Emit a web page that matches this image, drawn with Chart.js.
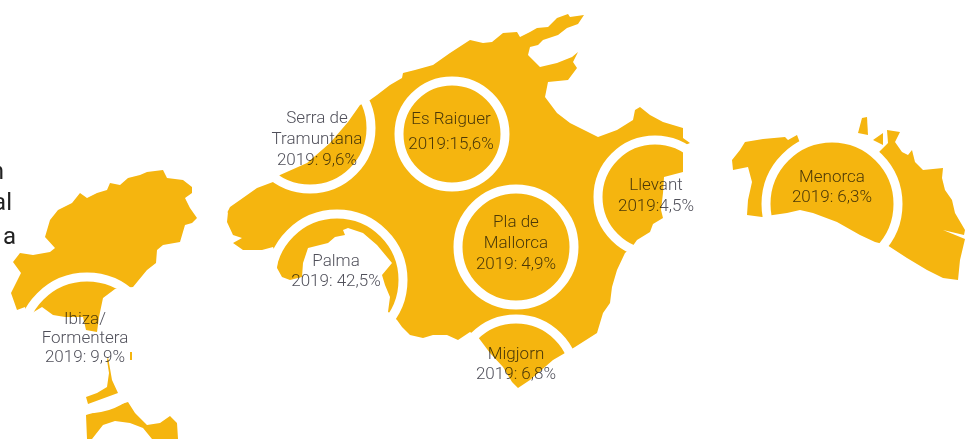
<!DOCTYPE html>
<html>
<head>
<meta charset="utf-8">
<style>
  html, body { margin: 0; padding: 0; background: #fff; overflow: hidden; }
  canvas { display: block; }
</style>
<script src="https://cdn.jsdelivr.net/npm/chart.js@4"></script>
</head>
<body>
<canvas id="mapChart" width="965" height="439"></canvas>
<script>
const ibiza = [13,262, 20,253, 33,255, 50,252, 55,248, 45,237, 50,220, 58,210, 72,203, 80,193, 87,198, 97,193, 107,190, 110,183, 120,185, 128,178, 140,175, 147,172, 163,170, 167,178, 183,180, 192,187, 192,193, 185,198, 190,208, 197,218, 192,223, 185,225, 180,242, 163,245, 157,250, 156,263, 147,270, 133,287, 115,289, 103,298, 99,317, 97,332, 86,330, 83,317, 65,317, 53,315, 42,307, 32,313, 28,319, 25,307, 17,310, 11,293, 21,273];
const formenteraNorth = [108,357, 112,380, 118,393, 88,404, 86,397, 97,393, 107,387, 109,373, 107,360];
const formenteraSouth = [86,415, 128,402, 135,413, 147,425, 160,423, 170,416, 177,423, 178,439, 152,439, 143,428, 130,423, 115,421, 103,425, 92,439, 87,439];
const espalmador = [130,352, 132,352, 132,360, 130,360];
const mallorca = [227,213, 230,207, 240,200, 257,188, 273,182, 280,175, 307,163, 330,143, 348,122, 360,105, 370,100, 377,95, 390,85, 402,78, 403,73, 415,70, 433,65, 450,53, 470,40, 483,43, 492,42, 503,33, 517,32, 520,37, 530,32, 537,28, 548,27, 557,18, 568,14, 570,17, 584,15, 578,24, 567,28, 558,35, 543,40, 538,45, 530,47, 528,55, 540,67, 557,63, 572,57, 578,52, 573,62, 577,68, 568,80, 548,82, 545,97, 557,113, 570,123, 598,137, 617,130, 633,120, 635,110, 640,107, 650,115, 663,122, 683,128, 683,138, 690,143, 683,146, 683,172, 664,177, 663,193, 661,210, 663,218, 653,224, 650,232, 637,240, 632,247, 625,253, 617,270, 612,287, 610,303, 603,313, 597,333, 575,347, 565,353, 553,360, 530,380, 518,388, 512,382, 503,367, 490,353, 478,337, 470,332, 458,340, 447,335, 433,335, 423,338, 410,335, 402,327, 397,320, 390,313, 388,312, 390,297, 385,285, 382,275, 392,263, 377,245, 363,233, 348,228, 343,230, 345,235, 335,237, 328,243, 308,248, 303,263, 302,277, 290,280, 282,277, 277,268, 278,258, 273,247, 262,250, 253,250, 243,250, 233,243, 242,238, 233,235, 227,222, 228,212];
const menorca = [732,160, 740,150, 745,142, 763,139, 785,137, 788,140, 797,135, 800,143, 832,141, 868,145, 878,153, 888,143, 887,130, 900,132, 895,142, 902,152, 908,155, 912,150, 915,162, 923,170, 943,168, 942,178, 945,190, 952,200, 955,213, 965,230, 964,235, 943,230, 965,239, 960,260, 958,280, 943,278, 927,270, 907,258, 887,245, 875,242, 860,235, 837,222, 813,213, 800,210, 787,213, 773,215, 762,217, 747,215, 748,200, 752,182, 748,167, 733,170];
const menorcaIsletA = [862,118, 867,117, 868,135, 858,133];
const menorcaIsletB = [873,140, 883,133, 883,145];
const islands = [ibiza, formenteraNorth, formenteraSouth, espalmador, mallorca, menorca, menorcaIsletA, menorcaIsletB];

// regions
const regionNames = [['Ibiza/', 'Formentera'], ['Serra de', 'Tramuntana'], ['Es Raiguer'], ['Palma'], ['Pla de', 'Mallorca'], ['Llevant'], ['Migjorn'], ['Menorca']];
const regionShares = ['2019: 9,9%', '2019: 9,6%', '2019:15,6%', '2019: 42,5%', '2019: 4,9%', '2019:4,5%', '2019: 6,8%', '2019: 6,3%'];
const ringX = [87, 310, 452, 337, 516, 655, 516, 832];
const ringY = [343, 128, 134, 280, 247, 197, 378, 204];
const ringR = [66, 61, 53, 66, 58, 57, 59, 66];
const labelX = [85, 317, 451, 336, 516, 656, 516, 832];
const labelY = [320, 119, 120, 262, 223, 186, 355, 178];
const labelStep = [19, 21, 25, 20, 21, 21, 20, 20];

// the clipped paragraph at the left edge
const cutText = ['n', 'al', 'a'];
const cutTextRight = [4, 12, 16];
const cutTextY = [173, 204, 238];

const gold = '#f5b50f';

function toPoints(flat) {
    const pts = [];
    for (let i = 0; i < flat.length; i += 2) {
        pts.push({ x: flat[i], y: flat[i + 1] });
    }
    pts.push({ x: flat[0], y: flat[1] });
    return pts;
}

const islandSets = islands.map(function (outline) {
    return {
        type: 'scatter',
        data: toPoints(outline),
        showLine: true,
        fill: 'shape',
        backgroundColor: gold,
        borderWidth: 0,
        pointRadius: 0,
        order: 2
    };
});

const ringSet = {
    type: 'bubble',
    data: ringX.map(function (x, i) { return { x: x, y: ringY[i], r: ringR[i] }; }),
    backgroundColor: 'rgba(0,0,0,0)',
    borderColor: '#ffffff',
    borderWidth: 9,
    order: 1
};

const labelPlugin = {
    id: 'labelPlugin',
    afterDraw(chart) {
        const ctx = chart.ctx;
        const xs = chart.scales.x;
        const ys = chart.scales.y;
        ctx.save();
        ctx.textBaseline = 'middle';
        ctx.textAlign = 'center';
        ctx.font = '300 17px Roboto';
        ctx.fillStyle = '#50505a';
        ctx.globalCompositeOperation = 'multiply';
        regionNames.forEach(function (lines, i) {
            const all = lines.concat(regionShares[i]);
            all.forEach(function (line, j) {
                ctx.fillText(line, xs.getPixelForValue(labelX[i]), ys.getPixelForValue(labelY[i] + j * labelStep[i]));
            });
        });
        ctx.globalCompositeOperation = 'source-over';
        ctx.textAlign = 'right';
        ctx.font = '400 24px Roboto';
        ctx.fillStyle = '#222222';
        cutText.forEach(function (t, i) {
            ctx.fillText(t, xs.getPixelForValue(cutTextRight[i]), ys.getPixelForValue(cutTextY[i]));
        });
        ctx.restore();
    }
};

new Chart(document.getElementById('mapChart').getContext('2d'), {
    type: 'scatter',
    data: { datasets: islandSets.concat(ringSet) },
    options: {
        responsive: false,
        animation: false,
        layout: { padding: 0, autoPadding: false },
        plugins: { legend: { display: false }, tooltip: { enabled: false } },
        scales: {
            x: { type: 'linear', display: false, min: 0, max: 965 },
            y: { type: 'linear', display: false, min: 0, max: 439, reverse: true }
        }
    },
    plugins: [labelPlugin]
});
</script>
</body>
</html>
